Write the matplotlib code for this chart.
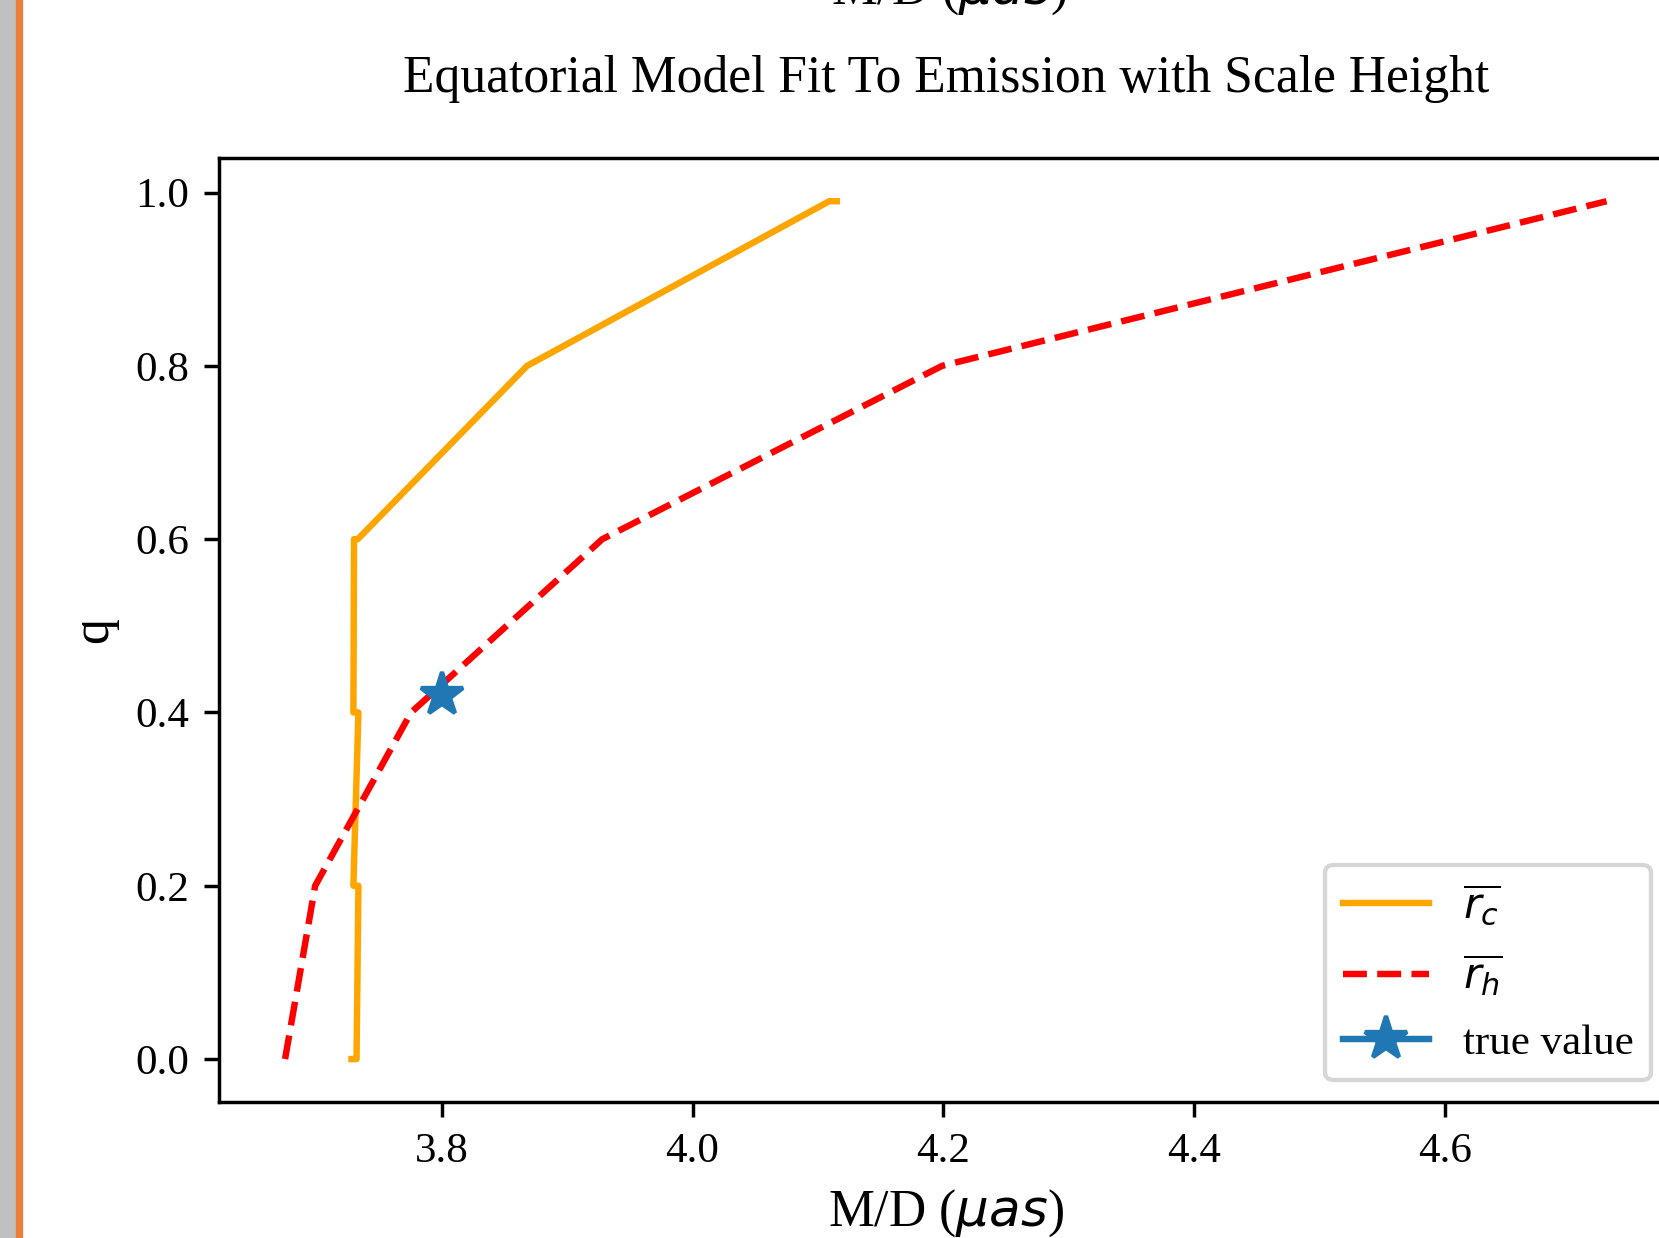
import numpy as np
import matplotlib
matplotlib.use("Agg")
import matplotlib.pyplot as plt
from matplotlib.patches import Rectangle

plt.rcParams['font.family'] = ['Liberation Serif', 'DejaVu Serif']
plt.rcParams['mathtext.fontset'] = 'dejavusans'

# data
rc_x = [3.728, 3.732, 3.7335, 3.7295, 3.7335, 3.7295, 3.730, 3.733, 3.868, 4.109, 4.115]
rc_q = [0.0, 0.0, 0.2, 0.2, 0.4, 0.4, 0.6, 0.6, 0.8, 0.99, 0.99]

rh_x = [3.675, 3.699, 3.7755, 3.928, 4.199, 4.729]
rh_q = [0.0, 0.2, 0.4, 0.6, 0.8, 0.99]

true_x = [3.8]
true_q = [0.42]

dpi = 310
fig = plt.figure(figsize=(1659 / dpi, 1238 / dpi), dpi=dpi)

# notebook cell edge on the left of the screenshot
fig.patches.append(Rectangle((0, 0), 18 / 1659, 1, transform=fig.transFigure,
                             color='#c0c0c0', zorder=0))
fig.patches.append(Rectangle((18 / 1659, 0), 3 / 1659, 1, transform=fig.transFigure,
                             color='#ec7e3c', zorder=0))

# cut-off xlabel of the previous figure
fig.text(949 / 1659, 1 - 4 / 1238, r'M/D ($\mu as$)', ha='center', va='baseline',
         fontsize=12)

ax = fig.add_axes([219 / 1659, 0.1099, 0.8762, 0.7622])

ax.plot(rc_x, rc_q, color='orange', label=r'$\overline{r_c}$')
ax.plot(rh_x, rh_q, color='red', linestyle='--', label=r'$\overline{r_h}$')
ax.plot(true_x, true_q, marker='*', markersize=10.5, label='true value')

ax.set_title('Equatorial Model Fit To Emission with Scale Height', pad=15.5)
ax.set_xlabel(r'M/D ($\mu as$)', fontsize=12)
ax.set_ylabel('q', fontsize=12)
ax.legend(loc='lower right', labelspacing=0.6)

fig.savefig('out.png', dpi=dpi)
